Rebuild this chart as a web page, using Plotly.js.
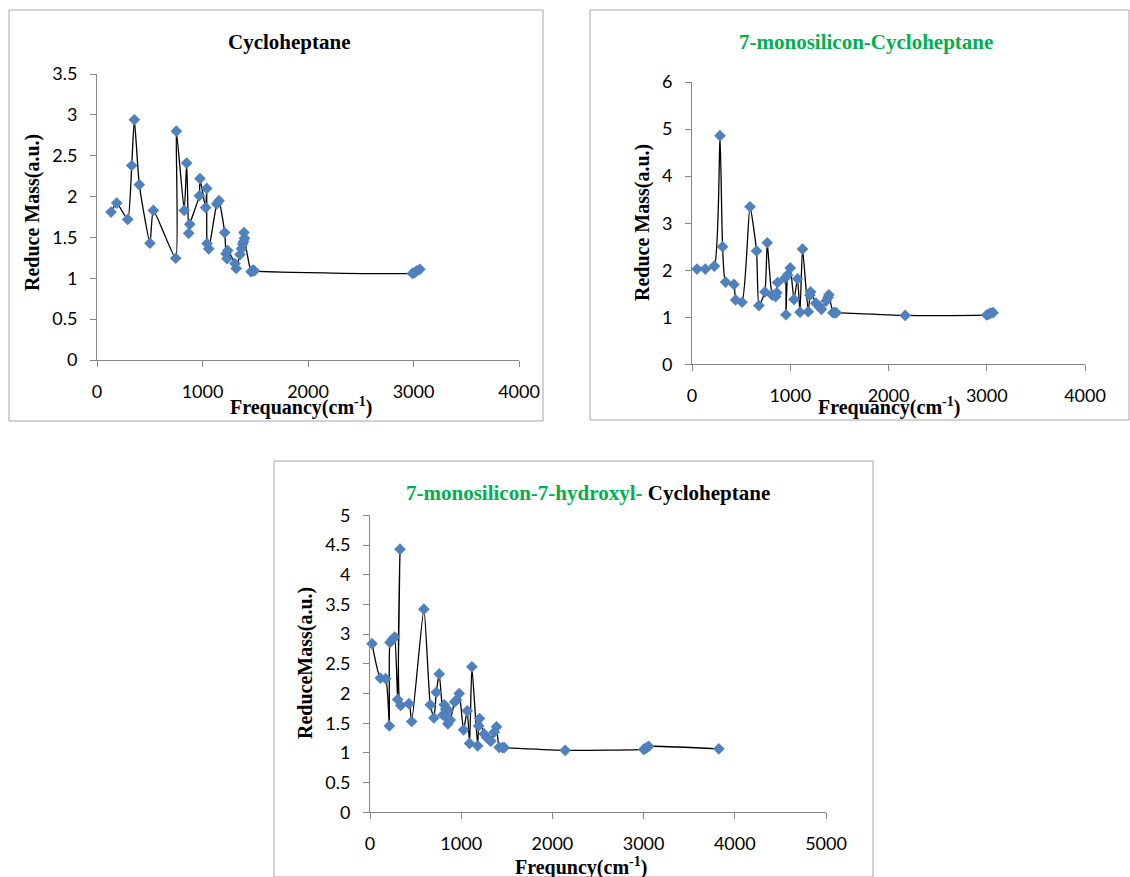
<!DOCTYPE html>
<html>
<head>
<meta charset="utf-8">
<script src="https://cdn.plot.ly/plotly-3.0.1.min.js"></script>
<style>
html,body{margin:0;padding:0;background:#fff;}
#chart{width:1130px;height:877px;}
</style>
</head>
<body>
<div id="chart"></div>
<script>
// ---- Data ----
// Panel 1: Cycloheptane
const freq1 = [133, 187, 291, 329, 354, 401, 502, 534, 746, 752, 827, 850, 869, 879, 970, 976, 1030, 1040, 1043, 1059, 1135, 1156, 1210, 1223, 1232, 1239, 1308, 1320, 1355, 1370, 1381, 1390, 1393, 1398, 1460, 1470, 1480, 1490, 2990, 3010, 3030, 3060];
const mass1 = [1.81, 1.92, 1.72, 2.38, 2.94, 2.145, 1.43, 1.83, 1.245, 2.80, 1.83, 2.41, 1.55, 1.66, 2.01, 2.22, 1.865, 2.10, 1.425, 1.36, 1.91, 1.95, 1.56, 1.30, 1.24, 1.34, 1.18, 1.12, 1.29, 1.36, 1.42, 1.45, 1.56, 1.49, 1.08, 1.09, 1.10, 1.09, 1.06, 1.07, 1.09, 1.11];

// Panel 2: 7-monosilicon-Cycloheptane
const freq2 = [51, 135, 227, 285, 311, 342, 427, 444, 509, 590, 657, 681, 742, 766, 817, 851, 864, 871, 946, 956, 973, 1000, 1038, 1074, 1099, 1125, 1183, 1200, 1207, 1261, 1285, 1305, 1317, 1366, 1385, 1393, 1434, 1450, 1468, 2170, 3000, 3020, 3040, 3065];
const mass2 = [2.025, 2.025, 2.09, 4.86, 2.50, 1.75, 1.70, 1.37, 1.32, 3.35, 2.41, 1.25, 1.54, 2.585, 1.47, 1.44, 1.52, 1.74, 1.83, 1.055, 1.90, 2.05, 1.38, 1.82, 1.11, 2.45, 1.12, 1.47, 1.54, 1.30, 1.25, 1.21, 1.17, 1.35, 1.42, 1.48, 1.10, 1.10, 1.10, 1.04, 1.05, 1.07, 1.09, 1.10];

// Panel 3: 7-monosilicon-7-hydroxyl- Cycloheptane
const freq3 = [22, 113, 172, 212, 219, 245, 270, 303, 329, 336, 427, 457, 591, 661, 701, 727, 759, 800, 814, 829, 836, 854, 858, 880, 928, 949, 978, 1026, 1066, 1092, 1117, 1180, 1191, 1201, 1252, 1281, 1311, 1325, 1362, 1387, 1416, 1453, 1471, 2140, 3000, 3015, 3035, 3055, 3825];
const mass3 = [2.84, 2.26, 2.25, 1.455, 2.86, 2.91, 2.95, 1.90, 4.43, 1.80, 1.83, 1.53, 3.42, 1.81, 1.59, 2.02, 2.33, 1.64, 1.81, 1.735, 1.60, 1.49, 1.72, 1.555, 1.86, 1.89, 2.00, 1.39, 1.71, 1.16, 2.45, 1.12, 1.455, 1.58, 1.32, 1.26, 1.22, 1.20, 1.35, 1.44, 1.095, 1.09, 1.09, 1.045, 1.06, 1.07, 1.09, 1.11, 1.07];

// Titles / labels
const titles = ["Cycloheptane", "7-monosilicon-Cycloheptane", "7-monosilicon-7-hydroxyl- "];
const titleTail3 = "Cycloheptane";
const yTitles = ["Reduce Mass(a.u.)", "Reduce Mass(a.u.)", "ReduceMass(a.u.)"];
const xTitles = ["Frequancy(cm<sup>-1</sup>)", "Frequancy(cm<sup>-1</sup>)", "Frequncy(cm<sup>-1</sup>)"];

// ---- Layout helpers ----
const W = 1130, H = 877;
const px = x => x / W;
const py = y => 1 - y / H;

const GREEN = '#00B050';
const AXC = '#868686';
const serif = 'Liberation Serif, Times New Roman, serif';
const sans = 'Lato, Carlito, Calibri, sans-serif';

function axisBase(extra) {
  return Object.assign({
    showline: true, linecolor: AXC, linewidth: 1,
    ticks: 'outside', ticklen: 6, tickcolor: AXC, tickwidth: 1,
    showgrid: false, zeroline: false, fixedrange: true,
    tickfont: {family: sans, size: 18, color: '#000'},
    ticklabelstandoff: 9
  }, extra);
}

function trace(x, y, xa, ya) {
  return {
    x: x, y: y, xaxis: xa, yaxis: ya, type: 'scatter', mode: 'lines+markers',
    line: {color: '#000', width: 1.3, shape: 'spline', smoothing: 0.5},
    marker: {symbol: 'diamond', size: 9, color: '#4F81BD', line: {width: 0}},
    cliponaxis: false, hoverinfo: 'x+y', showlegend: false
  };
}

const data = [
  trace(freq1, mass1, 'x', 'y'),
  trace(freq2, mass2, 'x2', 'y2'),
  trace(freq3, mass3, 'x3', 'y3')
];

function ann(text, x, y, color, size, angle) {
  return {
    xref: 'paper', yref: 'paper', x: px(x), y: py(y),
    xanchor: 'center', yanchor: 'middle', showarrow: false,
    text: text, textangle: angle || 0,
    font: {family: serif, size: size, color: color}
  };
}

function box(x0, y0, x1, y1) {
  return {type: 'rect', xref: 'paper', yref: 'paper',
    x0: px(x0), x1: px(x1), y0: py(y1), y1: py(y0),
    line: {color: '#a6a6a6', width: 1}, fillcolor: 'rgba(0,0,0,0)'};
}

const layout = {
  width: W, height: H,
  margin: {l: 0, r: 0, t: 0, b: 0, pad: 0},
  paper_bgcolor: '#fff', plot_bgcolor: 'rgba(0,0,0,0)',
  showlegend: false,
  xaxis: axisBase({domain: [px(97), px(519)], range: [0, 4000], dtick: 1000, tick0: 0, anchor: 'y'}),
  yaxis: axisBase({domain: [py(360), py(74)], range: [0, 3.5], dtick: 0.5, tick0: 0, anchor: 'x'}),
  xaxis2: axisBase({domain: [px(692), px(1085)], range: [0, 4000], dtick: 1000, tick0: 0, anchor: 'y2'}),
  yaxis2: axisBase({domain: [py(364.4), py(82)], range: [0, 6], dtick: 1, tick0: 0, anchor: 'x2'}),
  xaxis3: axisBase({domain: [px(370), px(826)], range: [0, 5000], dtick: 1000, tick0: 0, anchor: 'y3'}),
  yaxis3: axisBase({domain: [py(812.4), py(515.3)], range: [0, 5], dtick: 0.5, tick0: 0, anchor: 'x3'}),
  shapes: [
    box(9, 10, 543, 421),
    box(590, 10, 1129, 420),
    box(274, 461, 873, 877)
  ],
  annotations: [
    ann('<b>' + titles[0] + '</b>', 289, 42, '#000', 21),
    ann('<b>' + titles[1] + '</b>', 866, 42, GREEN, 21),
    ann('<b><span style="color:' + GREEN + '">' + titles[2] + '</span>' + titleTail3 + '</b>', 588, 493, '#000', 21),
    ann('<b>' + yTitles[0] + '</b>', 33, 213, '#000', 20, -90),
    ann('<b>' + yTitles[1] + '</b>', 643, 223, '#000', 20, -90),
    ann('<b>' + yTitles[2] + '</b>', 305, 663, '#000', 20, -90),
    ann('<b>' + xTitles[0] + '</b>', 301, 406, '#000', 20),
    ann('<b>' + xTitles[1] + '</b>', 889, 406, '#000', 20),
    ann('<b>' + xTitles[2] + '</b>', 581, 866, '#000', 20)
  ]
};

Plotly.newPlot('chart', data, layout, {displayModeBar: false, staticPlot: true});
</script>
</body>
</html>
